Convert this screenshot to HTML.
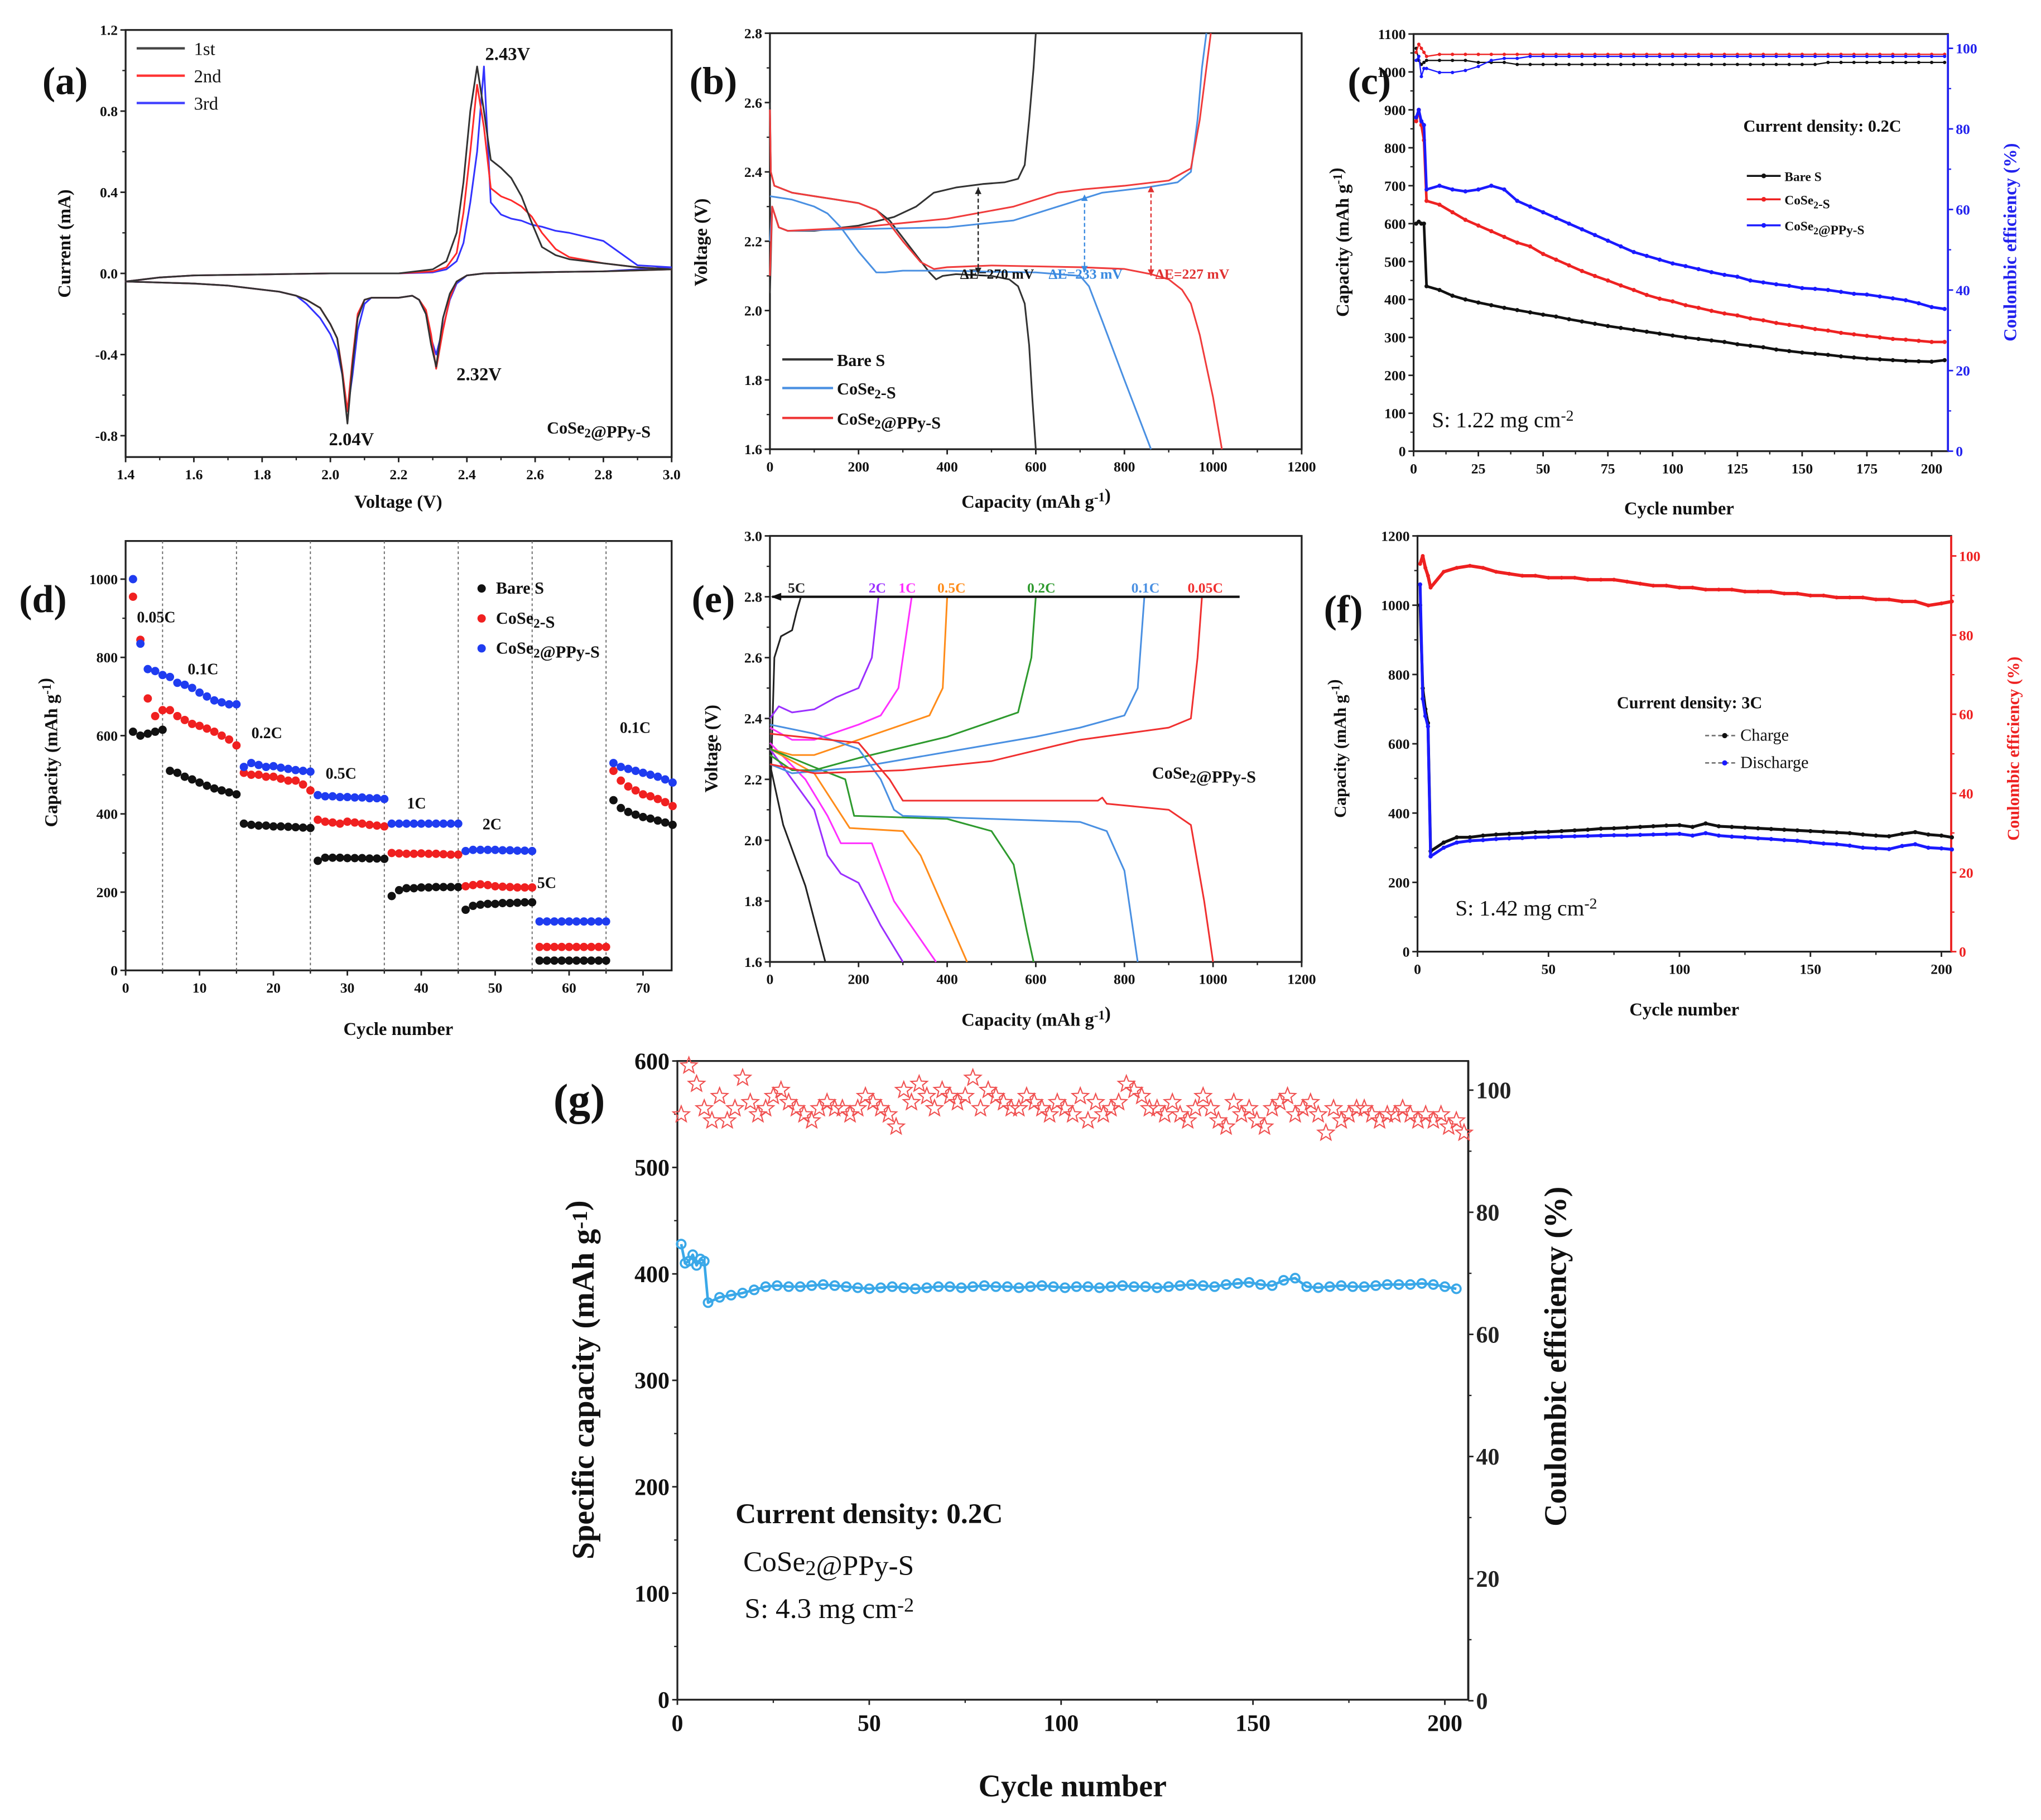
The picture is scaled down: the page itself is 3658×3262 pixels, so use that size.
<!DOCTYPE html>
<html><head><meta charset="utf-8"><title>CoSe2@PPy-S electrochemistry figure</title>
<style>
html,body{margin:0;padding:0;background:#fff;}
svg{display:block;}
text{font-family:"Liberation Serif",serif;}
</style></head>
<body>
<svg id="fig" xmlns="http://www.w3.org/2000/svg" width="3658" height="3262" viewBox="0 0 1568 1398">
<rect x="0" y="0" width="1568" height="1398" fill="#ffffff"/>
</svg>
<script>
// ---------- DATA ----------
// (a) CV
const cvV = [3.0,2.9,2.8,2.7,2.6,2.5,2.45,2.4,2.37,2.35,2.33,2.31,2.295,2.28,2.26,2.24,2.2,2.15,2.12,2.1,2.08,2.065,2.05,2.035,2.02,2.0,1.97,1.93,1.9,1.85,1.8,1.7,1.6,1.5,1.4,1.45,1.5,1.6,1.8,2.0,2.2,2.3,2.34,2.37,2.39,2.41,2.43,2.45,2.47,2.5,2.53,2.56,2.59,2.62,2.66,2.7,2.8,2.9,3.0];
const cv1I = [0.02,0.015,0.01,0.008,0.005,0.002,0,-0.01,-0.04,-0.1,-0.22,-0.46,-0.35,-0.2,-0.13,-0.11,-0.12,-0.12,-0.12,-0.13,-0.22,-0.45,-0.74,-0.5,-0.32,-0.25,-0.17,-0.13,-0.11,-0.09,-0.08,-0.06,-0.05,-0.045,-0.04,-0.03,-0.02,-0.01,-0.005,0,0,0.02,0.06,0.2,0.45,0.8,1.02,0.8,0.56,0.52,0.47,0.38,0.25,0.13,0.09,0.07,0.05,0.03,0.02];
const cv2I = [0.02,0.015,0.01,0.008,0.005,0.002,0,-0.01,-0.04,-0.12,-0.28,-0.47,-0.3,-0.18,-0.13,-0.11,-0.12,-0.12,-0.12,-0.13,-0.2,-0.42,-0.68,-0.48,-0.32,-0.25,-0.17,-0.13,-0.11,-0.09,-0.08,-0.06,-0.05,-0.045,-0.04,-0.03,-0.02,-0.01,-0.005,0,0,0.01,0.03,0.1,0.3,0.6,0.93,0.72,0.42,0.38,0.36,0.33,0.28,0.2,0.12,0.08,0.05,0.03,0.02];
const cv3I = [0.03,0.02,0.01,0.008,0.005,0.002,0,-0.01,-0.05,-0.13,-0.27,-0.4,-0.32,-0.2,-0.13,-0.11,-0.12,-0.12,-0.12,-0.15,-0.28,-0.5,-0.68,-0.5,-0.38,-0.3,-0.22,-0.15,-0.11,-0.09,-0.08,-0.06,-0.05,-0.045,-0.04,-0.03,-0.02,-0.01,-0.005,0,0,0.005,0.02,0.06,0.15,0.35,0.6,1.02,0.35,0.29,0.27,0.26,0.24,0.23,0.21,0.2,0.16,0.04,0.03];
// (b) galvanostatic profiles
const bBareDisQ=[0,2,10,50,100,150,200,240,270,300,330,360,375,390,420,500,540,560,575,585,592,600];
const bBareDisV=[2.6,2.4,2.36,2.34,2.33,2.32,2.31,2.29,2.26,2.21,2.16,2.11,2.09,2.1,2.105,2.1,2.09,2.07,2.02,1.9,1.75,1.6];
const bBareChQ=[0,5,20,40,100,200,280,330,370,420,480,530,560,575,585,595,600];
const bBareChV=[2.05,2.3,2.24,2.23,2.23,2.245,2.27,2.3,2.34,2.355,2.365,2.37,2.38,2.42,2.55,2.7,2.8];
const bCoseDisQ=[0,50,100,130,160,200,240,260,300,400,500,600,700,720,750,800,860];
const bCoseDisV=[2.33,2.32,2.3,2.28,2.24,2.17,2.11,2.11,2.115,2.115,2.112,2.11,2.1,2.07,1.97,1.8,1.6];
const bCoseChQ=[0,5,20,40,200,400,550,650,700,750,850,920,950,965,975,985];
const bCoseChV=[2.2,2.3,2.24,2.23,2.235,2.24,2.26,2.3,2.32,2.34,2.355,2.37,2.4,2.55,2.7,2.8];
const bPpyDisQ=[0,2,10,50,100,150,200,240,270,300,340,370,400,500,700,800,860,900,930,950,970,1000,1020];
const bPpyDisV=[2.58,2.4,2.36,2.34,2.33,2.32,2.31,2.29,2.25,2.2,2.14,2.12,2.125,2.13,2.125,2.12,2.105,2.09,2.06,2.02,1.93,1.75,1.6];
const bPpyChQ=[0,5,20,40,200,400,550,650,710,800,900,950,970,985,995];
const bPpyChV=[2.1,2.3,2.24,2.23,2.24,2.265,2.3,2.34,2.35,2.36,2.375,2.41,2.55,2.7,2.8];
// (c) cycling 0.2C
const cCycles=[1,2,3,4,5,10,15,20,25,30,35,40,45,50,55,60,65,70,75,80,85,90,95,100,105,110,115,120,125,130,135,140,145,150,155,160,165,170,175,180,185,190,195,200,205];
const cBare=[600,605,600,600,435,425,410,400,392,385,378,372,366,360,355,348,342,336,330,325,320,315,310,305,300,296,292,288,282,278,274,268,264,260,257,254,250,247,244,242,240,238,237,236,240];
const cCose=[870,900,860,820,660,650,630,610,595,580,565,550,540,520,505,490,475,462,450,437,425,412,402,395,385,378,370,363,358,350,345,338,333,328,322,318,312,308,304,300,296,294,291,288,288];
const cPpy=[880,900,870,860,690,700,690,685,690,700,690,660,645,630,615,600,585,570,555,540,525,515,505,495,488,480,472,465,460,450,445,440,436,430,428,425,420,415,413,408,403,398,390,380,375];
const cCeBare=[100,97,96,96.5,97,97,97,97,96.5,96.5,96.5,96,96,96,96,96,96,96,96,96,96,96,96,96,96,96,96,96,96,96,96,96,96,96,96,96.5,96.5,96.5,96.5,96.5,96.5,96.5,96.5,96.5,96.5];
const cCeCose=[99,101,100,99,98,98.5,98.5,98.5,98.5,98.5,98.5,98.5,98.5,98.5,98.5,98.5,98.5,98.5,98.5,98.5,98.5,98.5,98.5,98.5,98.5,98.5,98.5,98.5,98.5,98.5,98.5,98.5,98.5,98.5,98.5,98.5,98.5,98.5,98.5,98.5,98.5,98.5,98.5,98.5,98.5];
const cCePpy=[97,98,93,95,95,94,94,94.5,95.5,97,97.5,97.5,98,98,98,98,98,98,98,98,98,98,98,98,98,98,98,98,98,98,98,98,98,98,98,98,98,98,98,98,98,98,98,98,98];
// (d) rate capability, cycles 1..74
const dBare=[610,600,605,610,615,510,505,495,488,480,472,465,460,455,450,375,372,370,370,368,368,367,366,365,364,280,288,288,288,287,287,287,286,286,285,190,205,210,210,212,212,213,213,213,213,155,165,168,170,170,172,172,173,174,174,25,25,25,25,25,25,25,25,25,25,435,415,405,398,392,388,383,378,372];
const dCose=[955,845,695,650,665,665,650,640,630,625,618,610,600,590,575,505,500,500,495,495,490,485,485,475,460,385,380,378,375,380,378,375,372,370,368,300,299,298,298,299,298,298,297,296,296,215,218,220,218,215,214,213,212,212,212,60,60,60,60,60,60,60,60,60,60,510,485,470,460,450,445,438,430,420];
const dPpy=[1000,835,770,765,755,750,735,730,722,710,700,690,685,680,680,520,530,525,520,522,518,515,512,510,508,448,445,445,443,443,442,442,440,440,438,375,375,375,375,375,375,375,375,375,375,305,308,308,308,308,307,307,306,306,305,125,125,125,125,125,125,125,125,125,125,530,520,515,510,505,500,495,488,480];
const dBounds=[5,15,25,35,45,55,65];
const dRateLabels=["0.05C","0.1C","0.2C","0.5C","1C","2C","5C","0.1C"];
// (e) rate profiles
const eRates=["5C","2C","1C","0.5C","0.2C","0.1C","0.05C"];
const eDisQ=[[0,30,80,125],[0,50,100,130,160,200,250,300],[0,80,130,160,230,280,375],[0,100,180,300,340,400,445],[0,100,170,190,400,500,550,580,595],[0,100,200,250,280,300,500,700,760,800,830],[0,200,270,300,500,740,750,760,900,950,980,1000]];
const eDisV=[[2.25,2.05,1.85,1.6],[2.3,2.2,2.1,1.95,1.89,1.86,1.72,1.6],[2.32,2.2,2.08,1.99,1.99,1.8,1.6],[2.3,2.22,2.04,2.03,1.95,1.75,1.6],[2.3,2.24,2.2,2.08,2.07,2.03,1.92,1.7,1.6],[2.38,2.35,2.3,2.2,2.1,2.08,2.07,2.06,2.03,1.9,1.6],[2.35,2.32,2.2,2.13,2.13,2.13,2.14,2.12,2.1,2.05,1.8,1.6]];
const eChQ=[[0,10,25,50,60,70],[0,20,50,100,150,200,230,245],[0,50,100,200,250,290,310,320],[0,50,100,200,300,360,390,400],[0,50,100,200,400,500,560,590,600],[0,50,200,400,600,700,800,830,845],[0,100,300,500,700,900,950,965,975]];
const eChV=[[2.1,2.6,2.67,2.69,2.75,2.8],[2.4,2.44,2.42,2.43,2.47,2.5,2.6,2.8],[2.37,2.33,2.33,2.38,2.41,2.5,2.7,2.8],[2.3,2.28,2.28,2.33,2.38,2.41,2.5,2.8],[2.28,2.23,2.23,2.27,2.34,2.39,2.42,2.6,2.8],[2.25,2.22,2.24,2.29,2.34,2.37,2.41,2.5,2.8],[2.25,2.22,2.23,2.26,2.33,2.37,2.4,2.6,2.8]];
// (f) 3C long cycling
const fCycles=[1,2,3,4,5,10,15,20,25,30,35,40,45,50,55,60,65,70,75,80,85,90,95,100,105,110,115,120,125,130,135,140,145,150,155,160,165,170,175,180,185,190,195,200,204];
const fCharge=[1000,760,700,660,290,315,330,330,335,338,340,342,345,346,348,350,352,355,356,358,360,362,364,365,360,370,362,360,358,356,354,352,350,348,346,344,342,338,335,333,340,345,338,335,330];
const fDischarge=[1060,730,680,650,275,300,315,320,322,325,327,328,330,331,332,333,334,335,336,336,337,338,339,340,335,342,335,332,330,327,325,322,320,316,312,310,306,300,298,296,305,310,300,298,295];
const fCE=[98,100,97,95,92,96,97,97.5,97,96,95.5,95,95,94.5,94.5,94.5,94,94,94,93.5,93,92.5,92.5,92,92,91.5,91.5,91.5,91,91,91,90.5,90.5,90,90,89.5,89.5,89.5,89,89,88.5,88.5,87.5,88,88.5];
// (g) high loading
const gBlueHeadCycles=[1,2,3,4,5,6,7];
const gBlueHead=[428,410,412,418,408,414,412];
const gBlue=[373,378,380,382,385,388,389,388,388,389,390,389,388,387,386,387,388,387,386,387,388,388,387,388,389,388,388,387,388,389,388,387,388,388,387,388,389,388,388,387,388,389,390,389,388,390,391,392,390,389,394,396,388,387,388,389,388,388,389,390,390,390,391,390,388,386];
const gStars=[96,104,101,97,95,99,95,97,102,98,96,97,99,100,98,97,96,95,97,98,97,97,96,97,99,98,97,96,94,100,98,101,99,97,100,99,98,99,102,97,100,99,98,97,97,99,98,97,96,98,97,96,99,95,98,96,97,98,101,100,99,97,97,96,98,96,95,97,99,97,95,94,98,96,97,95,94,97,98,99,96,97,98,96,93,97,95,96,97,97,96,95,96,96,97,96,95,96,95,96,94,95,93];
// tick arrays
const aXT=[1.4,1.6,1.8,2.0,2.2,2.4,2.6,2.8,3.0], aXL=["1.4","1.6","1.8","2.0","2.2","2.4","2.6","2.8","3.0"];
const aYT=[-0.8,-0.4,0,0.4,0.8,1.2], aYL=["-0.8","-0.4","0.0","0.4","0.8","1.2"];
const capXT=[0,200,400,600,800,1000,1200], capXL=["0","200","400","600","800","1000","1200"];
const bYT=[1.6,1.8,2.0,2.2,2.4,2.6,2.8], bYL=["1.6","1.8","2.0","2.2","2.4","2.6","2.8"];
const cXT=[0,25,50,75,100,125,150,175,200], cXL=["0","25","50","75","100","125","150","175","200"];
const cYT=[0,100,200,300,400,500,600,700,800,900,1000,1100], cYL=cYT.map(String);
const pctT=[0,20,40,60,80,100], pctL=["0","20","40","60","80","100"];
const dXT=[0,10,20,30,40,50,60,70], dXL=["0","10","20","30","40","50","60","70"];
const dYT=[0,200,400,600,800,1000], dYL=["0","200","400","600","800","1000"];
const eYT=[1.6,1.8,2.0,2.2,2.4,2.6,2.8,3.0], eYL=["1.6","1.8","2.0","2.2","2.4","2.6","2.8","3.0"];
const fXT=[0,50,100,150,200], fXL=["0","50","100","150","200"];
const fYT=[0,200,400,600,800,1000,1200], fYL=fYT.map(String);
const gYT=[0,100,200,300,400,500,600], gYL=gYT.map(String);

// ---------- HELPERS ----------
const svg=document.getElementById('fig');
const NS='http://www.w3.org/2000/svg';
function mk(tag,attrs,parent){const e=document.createElementNS(NS,tag);for(const k in attrs)e.setAttribute(k,attrs[k]);(parent||svg).appendChild(e);return e;}
function lin(d0,d1,r0,r1){return v=>r0+(v-d0)/(d1-d0)*(r1-r0);}
function group(name){const g=mk('g',{});


return g;}
function txt(g,s,x,y,o){o=o||{};const t=mk('text',{x:x,y:y,'font-size':o.fs||11,'font-weight':o.fw||'bold','text-anchor':o.anchor||'middle',fill:o.fill||'#111','font-family':o.ff||'"Liberation Serif",serif'},g);
if(o.rot)t.setAttribute('transform','rotate('+o.rot+' '+x+' '+y+')');
t.innerHTML=s;


return t;}
function line(g,xs,ys,X,Y,o){let d='';for(let i=0;i<xs.length;i++){d+=(i?'L':'M')+X(xs[i]).toFixed(2)+','+Y(ys[i]).toFixed(2);}
const p=mk('path',{d:d,fill:'none',stroke:o.c,'stroke-width':o.w||1.3,'stroke-linejoin':'round'},g);
if(o.dash)p.setAttribute('stroke-dasharray',o.dash);


return p;}
function dots(g,xs,ys,X,Y,o){for(let i=0;i<xs.length;i++){const c=mk('circle',{cx:X(xs[i]),cy:Y(ys[i]),r:o.r||2,fill:o.c},g);

}}
function axes(g,o){
 const f=mk('rect',{x:o.L,y:o.T,width:o.R-o.L,height:o.B-o.T,fill:'none',stroke:'#222','stroke-width':1.4},g);
 
 
 const fs=o.fs||11;
 o.xt.forEach((v,i)=>{const x=o.X(v);
  const t=mk('line',{x1:x,x2:x,y1:o.B,y2:o.B+4,stroke:'#222','stroke-width':1.2},g);
  
  
  txt(g,o.xl[i],x,o.B+6+fs,{fs:fs,name:'x-tick-label'});
  if(o.xminor&&i<o.xt.length-1){const xm=o.X((v+o.xt[i+1])/2);const m=mk('line',{x1:xm,x2:xm,y1:o.B,y2:o.B+2.5,stroke:'#222','stroke-width':1},g);
  
  }
 });
 o.yt.forEach((v,i)=>{const y=o.Y(v);
  const t=mk('line',{x1:o.L-4,x2:o.L,y1:y,y2:y,stroke:'#222','stroke-width':1.2},g);
  
  
  txt(g,o.yl[i],o.L-6,y+fs*0.35,{fs:fs,anchor:'end',name:'y-tick-label'});
  if(o.yminor&&i<o.yt.length-1){const ym=o.Y((v+o.yt[i+1])/2);const m=mk('line',{x1:o.L-2.5,x2:o.L,y1:ym,y2:ym,stroke:'#222','stroke-width':1},g);
  
  }
 });
 if(o.Y2){const rc=o.rc||'#222';
  const ax=mk('line',{x1:o.R,x2:o.R,y1:o.T,y2:o.B,stroke:rc,'stroke-width':1.6},g);
  
  
  o.y2t.forEach((v,i)=>{const y=o.Y2(v);
   const t=mk('line',{x1:o.R,x2:o.R+4,y1:y,y2:y,stroke:rc,'stroke-width':1.2},g);
   
   
   txt(g,o.y2l[i],o.R+6,y+fs*0.35,{fs:fs,anchor:'start',fill:rc,name:'right-tick-label'});
   if(i<o.y2t.length-1){const ym=o.Y2((v+o.y2t[i+1])/2);const m=mk('line',{x1:o.R,x2:o.R+2.5,y1:ym,y2:ym,stroke:rc,'stroke-width':1},g);
   
   }
  });}
}
const SUB=(s)=>'<tspan font-size="75%" dy="3">'+s+'</tspan><tspan dy="-3"></tspan>';
const SUP=(s)=>'<tspan font-size="70%" dy="-5">'+s+'</tspan><tspan dy="5"></tspan>';
const CAP='Capacity (mAh g'+SUP('-1')+')';

// ---------- PANEL A ----------
(function(){
 const g=group('panel-a');
 const X=lin(1.4,3.0,96.5,516), Y=lin(-0.8,1.2,334.6,22.9);
 axes(g,{L:96.5,R:516,T:22.9,B:351,X:X,Y:Y,xt:aXT,xl:aXL,yt:aYT,yl:aYL,xminor:true,yminor:true});
 line(g,cvV,cv3I,X,Y,{c:'#3333ff',name:'cv-3rd'});
 line(g,cvV,cv2I,X,Y,{c:'#ff2a2a',name:'cv-2nd'});
 line(g,cvV,cv1I,X,Y,{c:'#333333',name:'cv-1st'});
 [['1st','#444',37],['2nd','#ff3333',58],['3rd','#4040ff',79]].forEach(l=>{
  const s=mk('line',{x1:105,x2:142,y1:l[2],y2:l[2],stroke:l[1],'stroke-width':1.8},g);
  
  
  txt(g,l[0],149,l[2]+5,{fs:14,fw:'normal',anchor:'start',ff:'"Liberation Sans",sans-serif',name:'legend-entry'});});
 txt(g,'2.43V',390,46,{fs:14,name:'peak-label'});
 txt(g,'2.32V',368,292,{fs:14,name:'peak-label'});
 txt(g,'2.04V',270,342,{fs:14,name:'peak-label'});
 txt(g,'CoSe'+SUB('2')+'@PPy-S',460,333,{fs:13,name:'sample-label'});
 txt(g,'(a)',50,72,{fs:30,name:'panel-letter'});
 txt(g,'Voltage (V)',306,390,{fs:14,name:'x-axis-title'});
 txt(g,'Current (mA)',54,187,{fs:14,rot:-90,name:'y-axis-title'});
})();

// ---------- PANEL B ----------
(function(){
 const g=group('panel-b');
 const X=lin(0,1200,591.5,1000), Y=lin(1.6,2.8,345,25.4);
 axes(g,{L:591.5,R:1000,T:25.4,B:345,X:X,Y:Y,xt:capXT,xl:capXL,yt:bYT,yl:bYL,xminor:true,yminor:true});
 line(g,bBareDisQ,bBareDisV,X,Y,{c:'#333',name:'bare-s-discharge'});
 line(g,bBareChQ,bBareChV,X,Y,{c:'#333',name:'bare-s-charge'});
 line(g,bCoseDisQ,bCoseDisV,X,Y,{c:'#4a90e2',name:'cose2-s-discharge'});
 line(g,bCoseChQ,bCoseChV,X,Y,{c:'#4a90e2',name:'cose2-s-charge'});
 line(g,bPpyDisQ,bPpyDisV,X,Y,{c:'#f03c3c',name:'ppy-discharge'});
 line(g,bPpyChQ,bPpyChV,X,Y,{c:'#f03c3c',name:'ppy-charge'});
 [[470,2.105,2.355,'#222'],[710,2.11,2.335,'#3a8ae0'],[860,2.1,2.36,'#e03030']].forEach(a=>{
  line(g,[a[0],a[0]],[a[1],a[2]],X,Y,{c:a[3],w:1,dash:'3,2',name:'delta-e-arrow'});
  const h1=mk('path',{d:'M'+(X(a[0])-2.5)+','+(Y(a[2])+5)+'L'+X(a[0])+','+Y(a[2])+'L'+(X(a[0])+2.5)+','+(Y(a[2])+5)+'Z',fill:a[3]},g);
  
  
  const h2=mk('path',{d:'M'+(X(a[0])-2.5)+','+(Y(a[1])-5)+'L'+X(a[0])+','+Y(a[1])+'L'+(X(a[0])+2.5)+','+(Y(a[1])-5)+'Z',fill:a[3]},g);
  
  });
 txt(g,'ΔE=270 mV',766,214,{fs:11,name:'delta-e-bare'});
 txt(g,'ΔE=233 mV',834,214,{fs:11,fill:'#3a8ae0',name:'delta-e-cose2'});
 txt(g,'ΔE=227 mV',916,214,{fs:11,fill:'#e03030',name:'delta-e-ppy'});
 [['Bare S','#333',276],['CoSe'+SUB('2')+'-S','#4a90e2',298],['CoSe'+SUB('2')+'@PPy-S','#f03c3c',321]].forEach(l=>{
  const s=mk('line',{x1:601,x2:640,y1:l[2],y2:l[2],stroke:l[1],'stroke-width':1.8},g);
  
  
  txt(g,l[0],643,l[2]+5,{fs:13,anchor:'start',name:'legend-entry'});});
 txt(g,'(b)',548,72,{fs:30,name:'panel-letter'});
 txt(g,'Capacity (mAh g'+SUP('-1')+')',796,390,{fs:14,name:'x-axis-title'});
 txt(g,'Voltage (V)',543,186,{fs:14,rot:-90,name:'y-axis-title'});
})();

// ---------- PANEL C ----------
(function(){
 const g=group('panel-c');
 const X=lin(0,200,1086,1484), Y=lin(0,1100,346.5,26), Y2=lin(0,100,346.5,37);
 axes(g,{L:1086,R:1496.5,T:26,B:346.5,X:X,Y:Y,xt:cXT,xl:cXL,yt:cYT,yl:cYL,xminor:true,yminor:true,Y2:Y2,y2t:pctT,y2l:pctL,rc:'#2222ee'});
 const sets=[[cBare,cCeBare,'#111','bare-s'],[cCose,cCeCose,'#ee2222','cose2-s'],[cPpy,cCePpy,'#1a1aff','cose2-ppy-s']];
 sets.forEach(s=>{
  line(g,cCycles,s[1],X,Y2,{c:s[2],w:1,name:s[3]+'-ce-line'});
  dots(g,cCycles,s[1],X,Y2,{c:s[2],r:1.3,name:s[3]+'-ce-point'});
  line(g,cCycles,s[0],X,Y,{c:s[2],w:2,name:s[3]+'-capacity-line'});
  dots(g,cCycles,s[0],X,Y,{c:s[2],r:1.6,name:s[3]+'-capacity-point'});});
 txt(g,'Current density: 0.2C',1400,101,{fs:13,name:'current-density-label'});
 [['Bare S','#111',135],['CoSe'+SUB('2')+'-S','#ee2222',153],['CoSe'+SUB('2')+'@PPy-S','#1a1aff',173]].forEach(l=>{
  const s=mk('line',{x1:1342,x2:1368,y1:l[2],y2:l[2],stroke:l[1],'stroke-width':1.5},g);
  
  
  const c=mk('circle',{cx:1355,cy:l[2],r:1.8,fill:l[1]},g);
  
  
  txt(g,l[0],1371,l[2]+4,{fs:10,anchor:'start',name:'legend-entry'});});
 txt(g,'S: 1.22 mg cm'+SUP('-2'),1100,328,{fs:17,fw:'normal',anchor:'start',name:'loading-label'});
 txt(g,'(c)',1052,72,{fs:30,name:'panel-letter'});
 txt(g,'Cycle number',1290,395,{fs:14,name:'x-axis-title'});
 txt(g,CAP,1036,186,{fs:14,rot:-90,name:'y-axis-title'});
 txt(g,'Coulombic efficiency (%)',1549,186,{fs:14,rot:-90,fill:'#2222ee',name:'right-axis-title'});
})();

// ---------- PANEL D ----------
(function(){
 const g=group('panel-d');
 const X=lin(0,70,96.5,494), Y=lin(0,1000,745.4,444.8);
 axes(g,{L:96.5,R:516,T:415.5,B:745.4,X:X,Y:Y,xt:dXT,xl:dXL,yt:dYT,yl:dYL,xminor:true,yminor:true});
 dBounds.forEach(b=>{const l=mk('line',{x1:X(b),x2:X(b),y1:415.5,y2:745.4,stroke:'#666','stroke-width':0.8,'stroke-dasharray':'2,2'},g);
  
  });
 const cyc=dBare.map((v,i)=>i+1);
 dots(g,cyc,dBare,X,Y,{c:'#111',r:3.2,name:'bare-s-point'});
 dots(g,cyc,dCose,X,Y,{c:'#f02020',r:3.2,name:'cose2-s-point'});
 dots(g,cyc,dPpy,X,Y,{c:'#1f3cf0',r:3.2,name:'ppy-point'});
 const rlx=[120,156,205,262,320,378,420,488], rly=[478,518,567,598,621,637,682,563];
 dRateLabels.forEach((s,i)=>txt(g,s,rlx[i],rly[i],{fs:12,name:'rate-label'}));
 [['Bare S','#111',456],['CoSe'+SUB('2')+'-S','#f02020',479],['CoSe'+SUB('2')+'@PPy-S','#1f3cf0',502]].forEach(l=>{
  const c=mk('circle',{cx:370,cy:l[2]-4,r:3.2,fill:l[1]},g);
  
  
  txt(g,l[0],381,l[2],{fs:13,anchor:'start',name:'legend-entry'});});
 txt(g,'(d)',33,470,{fs:30,name:'panel-letter'});
 txt(g,'Cycle number',306,795,{fs:14,name:'x-axis-title'});
 txt(g,CAP,44,578,{fs:14,rot:-90,name:'y-axis-title'});
})();

// ---------- PANEL E ----------
(function(){
 const g=group('panel-e');
 const X=lin(0,1200,591.5,1000), Y=lin(1.6,3.0,738.9,411.6);
 axes(g,{L:591.5,R:1000,T:411.6,B:738.9,X:X,Y:Y,xt:capXT,xl:capXL,yt:eYT,yl:eYL,xminor:true,yminor:true});
 const cols=['#222','#9b30ff','#ff30ff','#ff8c1a','#2e9a2e','#4a90e2','#f03030'];
 eRates.forEach((r,i)=>{
  line(g,eDisQ[i],eDisV[i],X,Y,{c:cols[i],name:'discharge-'+r});
  line(g,eChQ[i],eChV[i],X,Y,{c:cols[i],name:'charge-'+r});});
 line(g,[5,1060],[2.8,2.8],X,Y,{c:'#111',w:1.8,name:'cutoff-line'});
 const ah=mk('path',{d:'M'+X(2)+','+Y(2.8)+'l8,-3v6z',fill:'#111'},g);
 
 
 const lx=[612,674,697,731,800,880,926];
 eRates.forEach((r,i)=>txt(g,r,lx[i],455,{fs:11,fill:cols[i],name:'rate-label-'+r}));
 txt(g,'CoSe'+SUB('2')+'@PPy-S',925,598,{fs:13,name:'sample-label'});
 txt(g,'(e)',548,470,{fs:30,name:'panel-letter'});
 txt(g,'Capacity (mAh g'+SUP('-1')+')',796,788,{fs:14,name:'x-axis-title'});
 txt(g,'Voltage (V)',551,575,{fs:14,rot:-90,name:'y-axis-title'});
})();

// ---------- PANEL F ----------
(function(){
 const g=group('panel-f');
 const X=lin(0,200,1089,1491.5), Y=lin(0,1200,731,411.6), Y2=lin(0,100,731,427);
 axes(g,{L:1089,R:1499,T:411.6,B:731,X:X,Y:Y,xt:fXT,xl:fXL,yt:fYT,yl:fYL,xminor:true,yminor:true,Y2:Y2,y2t:pctT,y2l:pctL,rc:'#ee2222'});
 line(g,fCycles,fCE,X,Y2,{c:'#ee2020',w:2.5,name:'ce-line'});
 dots(g,fCycles,fCE,X,Y2,{c:'#ee2020',r:1.5,name:'ce-point'});
 line(g,fCycles,fCharge,X,Y,{c:'#111',w:2.2,name:'charge-line'});
 dots(g,fCycles,fCharge,X,Y,{c:'#111',r:1.6,name:'charge-point'});
 line(g,fCycles,fDischarge,X,Y,{c:'#1a1aff',w:2.2,name:'discharge-line'});
 dots(g,fCycles,fDischarge,X,Y,{c:'#1a1aff',r:1.6,name:'discharge-point'});
 txt(g,'Current density: 3C',1298,544,{fs:13,name:'current-density-label'});
 [['Charge','#111',569],['Discharge','#1a1aff',590]].forEach(l=>{
  const s=mk('line',{x1:1310,x2:1334,y1:l[2]-4,y2:l[2]-4,stroke:'#777','stroke-width':1.2,'stroke-dasharray':'3,2'},g);
  
  
  const c=mk('circle',{cx:1325,cy:l[2]-4,r:2,fill:l[1]},g);
  
  
  txt(g,l[0],1337,l[2],{fs:13,fw:'normal',anchor:'start',name:'legend-entry'});});
 txt(g,'S: 1.42 mg cm'+SUP('-2'),1118,703,{fs:17,fw:'normal',anchor:'start',name:'loading-label'});
 txt(g,'(f)',1032,478,{fs:30,name:'panel-letter'});
 txt(g,'Cycle number',1294,780,{fs:14,name:'x-axis-title'});
 txt(g,CAP,1034,575,{fs:13,rot:-90,name:'y-axis-title'});
 txt(g,'Coulombic efficiency (%)',1551,575,{fs:13,rot:-90,fill:'#ee2222',name:'right-axis-title'});
})();

// ---------- PANEL G ----------
(function(){
 const g=group('panel-g');
 const X=lin(0,200,520.4,1110), Y=lin(0,600,1305.7,815), Y2=lin(0,100,1306.5,837.4);
 axes(g,{L:520.4,R:1128,T:815,B:1305.7,X:X,Y:Y,xt:fXT,xl:fXL,yt:gYT,yl:gYL,xminor:true,yminor:true,fs:18,Y2:Y2,y2t:pctT,y2l:pctL,rc:'#222'});
 const starCycles=gStars.map((v,i)=>1+2*i);
 starCycles.forEach((c,i)=>{const cx=X(c),cy=Y2(gStars[i]);let d='';
  for(let k=0;k<10;k++){const r=k%2?2.8:6.6,a=-Math.PI/2+k*Math.PI/5;d+=(k?'L':'M')+(cx+r*Math.cos(a)).toFixed(2)+','+(cy+r*Math.sin(a)).toFixed(2);}
  const s=mk('path',{d:d+'Z',fill:'none',stroke:'#f05050','stroke-width':0.9},g);
  
  });
 const bc=gBlue.map((v,i)=>8+3*i);
 const allC=gBlueHeadCycles.concat(bc), allV=gBlueHead.concat(gBlue);
 line(g,allC,allV,X,Y,{c:'#3aa8e8',w:2,name:'capacity-line'});
 allC.forEach((c,i)=>{const o=mk('circle',{cx:X(c),cy:Y(allV[i]),r:3.3,fill:'none',stroke:'#3aa8e8','stroke-width':1.6},g);
  
  });
 txt(g,'Current density: 0.2C',565,1170,{fs:22,anchor:'start',name:'current-density-label'});
 txt(g,'CoSe'+SUB('2')+'@PPy-S',571,1207,{fs:22,fw:'normal',anchor:'start',name:'sample-label'});
 txt(g,'S: 4.3 mg cm'+SUP('-2'),572,1243,{fs:22,fw:'normal',anchor:'start',name:'loading-label'});
 txt(g,'(g)',445,856,{fs:34,name:'panel-letter'});
 txt(g,'Cycle number',824,1380,{fs:24,name:'x-axis-title'});
 txt(g,'Specific capacity (mAh g'+SUP('-1')+')',456,1060,{fs:24,rot:-90,name:'y-axis-title'});
 txt(g,'Coulombic efficiency (%)',1203,1042,{fs:24,rot:-90,name:'right-axis-title'});
})();
</script>
</body></html>
